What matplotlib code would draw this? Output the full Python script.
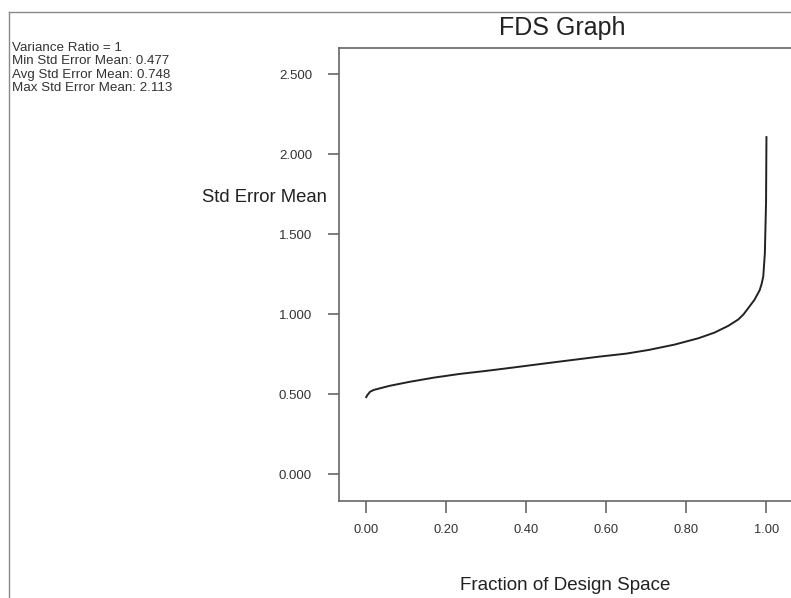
import matplotlib
matplotlib.use('Agg')
import matplotlib.pyplot as plt
from matplotlib.lines import Line2D
from matplotlib.ticker import FormatStrFormatter

plt.rcParams['font.family'] = ['Liberation Sans', 'DejaVu Sans']

# --- DATA ---
fraction = [0.0, 0.004, 0.011, 0.02, 0.035, 0.06, 0.11, 0.17, 0.234, 0.30,
            0.358, 0.42, 0.483, 0.582, 0.65, 0.706, 0.77, 0.83, 0.87, 0.905,
            0.93, 0.943, 0.955, 0.97, 0.983, 0.988, 0.992, 0.996, 0.999, 1.0]
std_err = [0.477, 0.495, 0.516, 0.527, 0.537, 0.553, 0.578, 0.604, 0.627, 0.646,
           0.664, 0.684, 0.704, 0.735, 0.754, 0.777, 0.81, 0.85, 0.885, 0.928,
           0.968, 1.0, 1.04, 1.09, 1.15, 1.19, 1.235, 1.38, 1.70, 2.113]
x_ticks = [0.0, 0.2, 0.4, 0.6, 0.8, 1.0]
y_ticks = [0.0, 0.5, 1.0, 1.5, 2.0, 2.5]
info_lines = ["Variance Ratio = 1",
              "Min Std Error Mean: 0.477",
              "Avg Std Error Mean: 0.748",
              "Max Std Error Mean: 2.113"]

W, H = 791, 598
fig = plt.figure(figsize=(W / 100, H / 100), dpi=100)
fig.patch.set_facecolor('white')

def fx(px):
    return px / W

def fy(py):
    return 1 - py / H

# outer frame (only top and left edges visible)
fig.add_artist(Line2D([fx(9), 1], [fy(12), fy(12)], color='#8a8a8a', lw=1.0))
fig.add_artist(Line2D([fx(9), fx(9)], [fy(12), 0], color='#8a8a8a', lw=1.0))

# axes box: left spine x=338, top y=48, bottom y=501, right off the image
ax = fig.add_axes([fx(338.5), fy(501), 1 - fx(338.5) + 0.01, fy(48) - fy(501)])
ax.plot(fraction, std_err, color='#222222', lw=1.4, solid_capstyle='butt',
        solid_joinstyle='round')

ax.set_xlim(-0.068, 1.081)
ax.set_ylim(-0.167, 2.664)
ax.set_xticks(x_ticks)
ax.set_yticks(y_ticks)
ax.xaxis.set_major_formatter(FormatStrFormatter('%.2f'))
ax.yaxis.set_major_formatter(FormatStrFormatter('%.3f'))

spine_col = '#666666'
for side in ['left', 'bottom', 'top']:
    ax.spines[side].set_color(spine_col)
    ax.spines[side].set_linewidth(1.2)
ax.spines['right'].set_visible(False)

ax.tick_params(axis='x', direction='out', length=8.5, width=1.2, color=spine_col,
               pad=8, labelsize=9.3, labelcolor='#333333')
ax.tick_params(axis='y', direction='out', length=8, width=1.2, color=spine_col,
               pad=11, labelsize=9.5, labelcolor='#333333')

# title and axis labels placed like the reference
fig.text(fx(562), fy(28), "FDS Graph", ha='center', va='center',
         fontsize=18, color='#222222')
fig.text(fx(326.5), fy(197), "Std Error Mean", ha='right', va='center',
         fontsize=13.3, color='#222222')
fig.text(fx(565), fy(586), "Fraction of Design Space", ha='center', va='center',
         fontsize=13.5, color='#222222')

# info block top-left
for i, line in enumerate(info_lines):
    fig.text(fx(12), fy(48 + i * 13.4), line, ha='left', va='center',
             fontsize=9.6, color='#333333')

fig.savefig('out.png', dpi=100, facecolor='white')
